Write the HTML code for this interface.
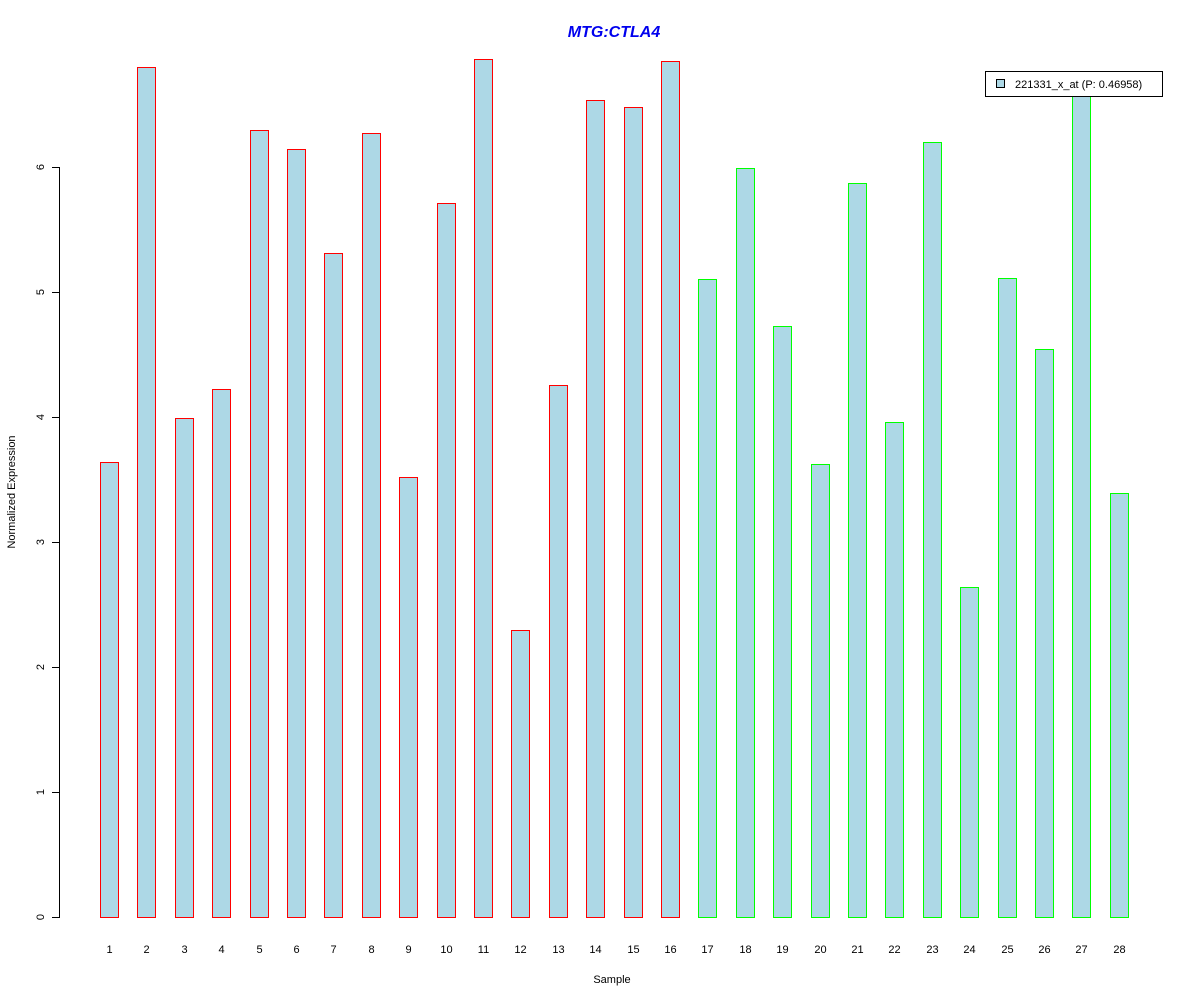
<!DOCTYPE html>
<html><head><meta charset="utf-8"><style>body{margin:0;background:#fff}svg{display:block}text{font-family:"Liberation Sans",Arial,sans-serif}</style></head>
<body>
<svg width="1200" height="1000" viewBox="0 0 1200 1000" xmlns="http://www.w3.org/2000/svg">
<rect width="1200" height="1000" fill="#fff"/>
<text x="614" y="37" text-anchor="middle" font-size="16" font-weight="bold" font-style="italic" fill="#0000ee">MTG:CTLA4</text>
<g fill="#ff0000">
<rect x="100" y="462" width="19" height="456"/>
<rect x="137" y="67" width="19" height="851"/>
<rect x="175" y="418" width="19" height="500"/>
<rect x="212" y="389" width="19" height="529"/>
<rect x="250" y="130" width="19" height="788"/>
<rect x="287" y="149" width="19" height="769"/>
<rect x="324" y="253" width="19" height="665"/>
<rect x="362" y="133" width="19" height="785"/>
<rect x="399" y="477" width="19" height="441"/>
<rect x="437" y="203" width="19" height="715"/>
<rect x="474" y="59" width="19" height="859"/>
<rect x="511" y="630" width="19" height="288"/>
<rect x="549" y="385" width="19" height="533"/>
<rect x="586" y="100" width="19" height="818"/>
<rect x="624" y="107" width="19" height="811"/>
<rect x="661" y="61" width="19" height="857"/>
</g>
<g fill="#00ff00">
<rect x="698" y="279" width="19" height="639"/>
<rect x="736" y="168" width="19" height="750"/>
<rect x="773" y="326" width="19" height="592"/>
<rect x="811" y="464" width="19" height="454"/>
<rect x="848" y="183" width="19" height="735"/>
<rect x="885" y="422" width="19" height="496"/>
<rect x="923" y="142" width="19" height="776"/>
<rect x="960" y="587" width="19" height="331"/>
<rect x="998" y="278" width="19" height="640"/>
<rect x="1035" y="349" width="19" height="569"/>
<rect x="1072" y="87" width="19" height="831"/>
<rect x="1110" y="493" width="19" height="425"/>
</g>
<g fill="#add8e6">
<rect x="101" y="463" width="17" height="454"/>
<rect x="138" y="68" width="17" height="849"/>
<rect x="176" y="419" width="17" height="498"/>
<rect x="213" y="390" width="17" height="527"/>
<rect x="251" y="131" width="17" height="786"/>
<rect x="288" y="150" width="17" height="767"/>
<rect x="325" y="254" width="17" height="663"/>
<rect x="363" y="134" width="17" height="783"/>
<rect x="400" y="478" width="17" height="439"/>
<rect x="438" y="204" width="17" height="713"/>
<rect x="475" y="60" width="17" height="857"/>
<rect x="512" y="631" width="17" height="286"/>
<rect x="550" y="386" width="17" height="531"/>
<rect x="587" y="101" width="17" height="816"/>
<rect x="625" y="108" width="17" height="809"/>
<rect x="662" y="62" width="17" height="855"/>
<rect x="699" y="280" width="17" height="637"/>
<rect x="737" y="169" width="17" height="748"/>
<rect x="774" y="327" width="17" height="590"/>
<rect x="812" y="465" width="17" height="452"/>
<rect x="849" y="184" width="17" height="733"/>
<rect x="886" y="423" width="17" height="494"/>
<rect x="924" y="143" width="17" height="774"/>
<rect x="961" y="588" width="17" height="329"/>
<rect x="999" y="279" width="17" height="638"/>
<rect x="1036" y="350" width="17" height="567"/>
<rect x="1073" y="88" width="17" height="829"/>
<rect x="1111" y="494" width="17" height="423"/>
</g>
<g fill="#000">
<rect x="59" y="167" width="1" height="751"/>
<rect x="52" y="917" width="8" height="1"/>
<rect x="52" y="792" width="8" height="1"/>
<rect x="52" y="667" width="8" height="1"/>
<rect x="52" y="542" width="8" height="1"/>
<rect x="52" y="417" width="8" height="1"/>
<rect x="52" y="292" width="8" height="1"/>
<rect x="52" y="167" width="8" height="1"/>
</g>
<g font-size="11" fill="#000" text-anchor="middle">
<text transform="translate(44,917) rotate(-90)">0</text>
<text transform="translate(44,792) rotate(-90)">1</text>
<text transform="translate(44,667) rotate(-90)">2</text>
<text transform="translate(44,542) rotate(-90)">3</text>
<text transform="translate(44,417) rotate(-90)">4</text>
<text transform="translate(44,292) rotate(-90)">5</text>
<text transform="translate(44,167) rotate(-90)">6</text>
<text transform="translate(15,492) rotate(-90)">Normalized Expression</text>
<text x="612" y="983">Sample</text>
</g>
<g font-size="11" fill="#000" text-anchor="middle">
<text x="109.5" y="953">1</text><text x="146.5" y="953">2</text><text x="184.5" y="953">3</text><text x="221.5" y="953">4</text><text x="259.5" y="953">5</text><text x="296.5" y="953">6</text><text x="333.5" y="953">7</text><text x="371.5" y="953">8</text><text x="408.5" y="953">9</text><text x="446.5" y="953">10</text><text x="483.5" y="953">11</text><text x="520.5" y="953">12</text><text x="558.5" y="953">13</text><text x="595.5" y="953">14</text><text x="633.5" y="953">15</text><text x="670.5" y="953">16</text><text x="707.5" y="953">17</text><text x="745.5" y="953">18</text><text x="782.5" y="953">19</text><text x="820.5" y="953">20</text><text x="857.5" y="953">21</text><text x="894.5" y="953">22</text><text x="932.5" y="953">23</text><text x="969.5" y="953">24</text><text x="1007.5" y="953">25</text><text x="1044.5" y="953">26</text><text x="1081.5" y="953">27</text><text x="1119.5" y="953">28</text>
</g>
<rect x="985" y="71" width="178" height="26" fill="#000"/>
<rect x="986" y="72" width="176" height="24" fill="#fff"/>
<rect x="996" y="79" width="9" height="9" fill="#000"/>
<rect x="997" y="80" width="7" height="7" fill="#add8e6"/>
<text x="1015" y="88" font-size="11" fill="#000">221331_x_at (P: 0.46958)</text>
</svg>
</body></html>
